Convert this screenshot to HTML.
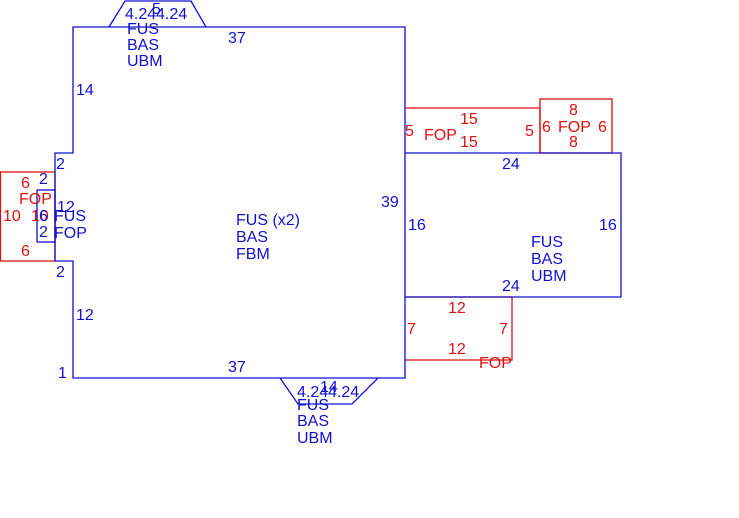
<!DOCTYPE html>
<html><head><style>body{margin:0;background:#fff}svg{display:block}text{font-family:"Liberation Sans",Arial,sans-serif;font-size:16px}</style></head><body>
<svg width="739" height="518" xmlns="http://www.w3.org/2000/svg">
<g fill="none" stroke-width="1.3">
<polyline stroke="#e01010" points="405,108 540,108 540,153"/>
<rect stroke="#e01010" x="540" y="99" width="72" height="54"/>
<rect stroke="#e01010" x="0.5" y="172" width="54.5" height="89"/>
<polyline stroke="#e01010" points="405,297 512,297 512,360 405,360"/>
<polygon stroke="#1010d0" points="73,27 405,27 405,378 73,378 73,261 55,261 55,153 73,153"/>
<rect stroke="#1010d0" x="37" y="190" width="18" height="52"/>
<polyline stroke="#1010d0" points="405,153 621,153 621,297 405,297"/>
<polyline stroke="#1010d0" points="109,27 125,1 191,1 206,27"/>
<polyline stroke="#1010d0" points="280,378 298,404 352,404 378,378"/>
</g>
<g fill="#e01010">
<text x="460" y="124">15</text><text x="405" y="136">5</text><text x="424" y="140">FOP</text><text x="525" y="136">5</text><text x="460" y="147">15</text>
<text x="569" y="115">8</text><text x="542" y="132">6</text><text x="558" y="132">FOP</text><text x="598" y="132">6</text><text x="569" y="147">8</text>
<text x="21" y="188">6</text><text x="19" y="204">FOP</text><text x="3" y="221">10</text><text x="31" y="221">10</text><text x="21" y="256">6</text>
<text x="448" y="313">12</text><text x="407" y="334">7</text><text x="499" y="334">7</text><text x="448" y="354">12</text><text x="479" y="368">FOP</text>
</g>
<g fill="#1010d0">
<text x="125" y="19">4.24</text><text x="152" y="14">5</text><text x="156" y="19">4.24</text>
<text x="127" y="34">FUS</text><text x="127" y="50">BAS</text><text x="127" y="66">UBM</text>
<text x="228" y="43">37</text><text x="76" y="95">14</text><text x="56" y="169">2</text>
<text x="39" y="184">2</text><text x="57" y="212">12</text><text x="39" y="221">6</text><text x="54" y="221">FUS</text><text x="39" y="237">2</text><text x="54" y="238">FOP</text>
<text x="56" y="277">2</text><text x="76" y="320">12</text><text x="58" y="378">1</text><text x="228" y="372">37</text>
<text x="236" y="225">FUS (x2)</text><text x="236" y="242">BAS</text><text x="236" y="259">FBM</text>
<text x="381" y="207">39</text><text x="408" y="230">16</text>
<text x="502" y="169">24</text><text x="599" y="230">16</text><text x="531" y="247">FUS</text><text x="531" y="264">BAS</text><text x="531" y="281">UBM</text><text x="502" y="291">24</text>
<text x="297" y="397">4.24</text><text x="320" y="392">14</text><text x="328" y="397">4.24</text>
<text x="297" y="410">FUS</text><text x="297" y="426">BAS</text><text x="297" y="443">UBM</text>
</g>
</svg>
</body></html>
